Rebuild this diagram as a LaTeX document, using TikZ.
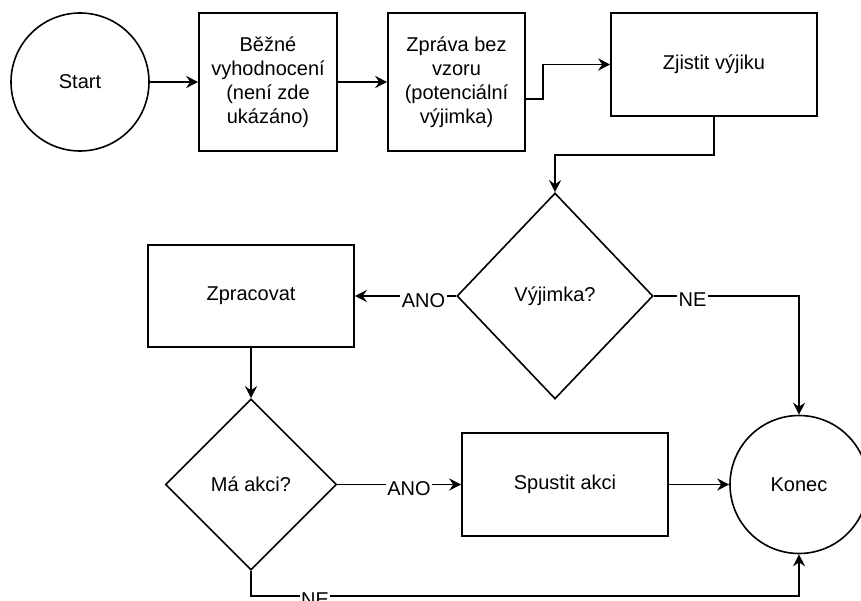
\documentclass[tikz,border=0pt]{standalone}
\usepackage{fontspec}
\setmainfont{Liberation Sans}
\usetikzlibrary{shapes.geometric,arrows.meta}
\begin{document}
\begin{tikzpicture}[x=1pt,y=-1pt,
  every node/.style={font=\fontsize{20}{24}\selectfont, text=black},
  base/.style={draw, line width=1.6pt, inner sep=0pt, align=center},
  box/.style={base, rectangle},
  term/.style={base, circle, minimum size=138pt},
  decision/.style={base, diamond},
  flow/.style={line width=1.6pt, -{Stealth[length=12pt,width=12pt,inset=4pt]}},
  lbl/.style={fill=white, inner xsep=1.5pt, inner ysep=0pt}
]
\useasboundingbox (0,0) rectangle (861,601);

% process nodes
\node[term] (start) at (80,82) {Start};
\node[box, minimum width=138pt, minimum height=138pt] (eval) at (268,82)
  {Běžné\\vyhodnocení\\(není zde\\ukázáno)};
\node[box, minimum width=137pt, minimum height=138pt] (msg) at (456.5,82)
  {Zpráva bez\\vzoru\\(potenciální\\výjimka)};
\node[box, minimum width=206pt, minimum height=103pt] (detect) at (714,64.5)
  {Zjistit výjiku};
\node[decision, minimum width=196pt, minimum height=206pt] (exc) at (555,296)
  {Výjimka?};
\node[box, minimum width=206pt, minimum height=102pt] (proc) at (251,296)
  {Zpracovat};
\node[decision, minimum width=171pt, minimum height=171pt] (hasact) at (251,484.5)
  {Má akci?};
\node[box, minimum width=206pt, minimum height=103pt] (run) at (565,484.5)
  {Spustit akci};
\node[term] (end) at (799,484.5) {Konec};

% connectors
\draw[flow] (start) -- (eval);
\draw[flow] (eval) -- (msg);
\coordinate (m1) at (msg.east |- 0,99);
\draw[flow] (m1) -- (543,99) -- (543,64.5) -- (detect.west);
\draw[flow] (detect.south) -- (714,155) -- (555,155) -- (exc.north);
\draw[flow] (exc.west) -- (proc.east);
\draw[flow] (exc.east) -| (end.north);
\draw[flow] (proc.south) -- (hasact.north);
\draw[flow] (hasact.east) -- (run.west);
\draw[flow] (run.east) -- (end.west);
\draw[flow] (hasact.south) |- (end.south |- 0,596) -- (end.south);

% branch labels
\node[lbl] (yes1) at (423.5,300.5) {ANO};
\node[lbl] (no1) at (692.5,300) {NE};
\node[lbl] (yes2) at (409,489) {ANO};
\node[lbl] (no2) at (315,600) {NE};
\end{tikzpicture}
\end{document}
